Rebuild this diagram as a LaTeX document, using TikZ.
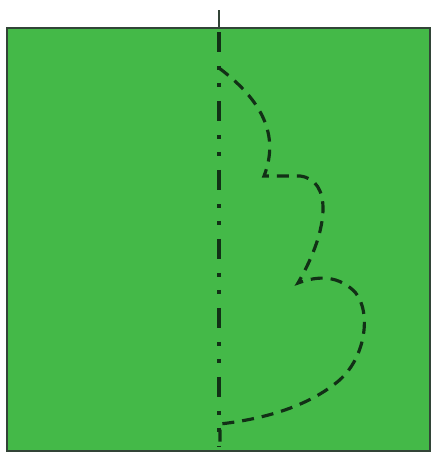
\documentclass[tikz,border=0pt]{standalone}
\usepackage{tikz}
\definecolor{leafgreen}{RGB}{68,185,72}
\definecolor{edgegray}{RGB}{50,68,55}
\definecolor{foldline}{RGB}{18,48,22}
\tikzset{
  sheet/.style={draw=edgegray, fill=leafgreen, line width=1.4pt},
  stub/.style={draw=edgegray, line width=1.4pt},
  axisline/.style={draw=foldline, line width=1.8pt,
    dash pattern=on 0.4cm off 0.28cm on 0.08cm off 0.26cm on 0.08cm off 0.28cm},
  cutline/.style={draw=foldline, line width=1.8pt, dash pattern=on 0.24cm off 0.16cm}
}
\begin{document}
\begin{tikzpicture}[x=0.02cm, y=-0.02cm]
  \useasboundingbox (0,0) rectangle (432,454);

  % Paper sheet
  \draw[sheet] (7,28) rectangle (430,451);

  % Fold axis
  \coordinate (axtop) at (219,10);
  \coordinate (axsheet) at (219,28);
  \coordinate (axbot) at (219,446);
  \draw[stub] (axtop) -- (axsheet);
  \draw[axisline] (219,32) -- (axbot);

  % Half outline to cut
  \draw[cutline] (219,68) .. controls (255,95) and (282,130) .. (264,176)
    -- (300,176) .. controls (332,180) and (330,228) .. (298,283)
    .. controls (312,278) and (335,272) .. (355,292)
    .. controls (372,312) and (366,360) .. (336,383)
    .. controls (302,410) and (255,420) .. (220,424) -- (220,446);
\end{tikzpicture}
\end{document}
